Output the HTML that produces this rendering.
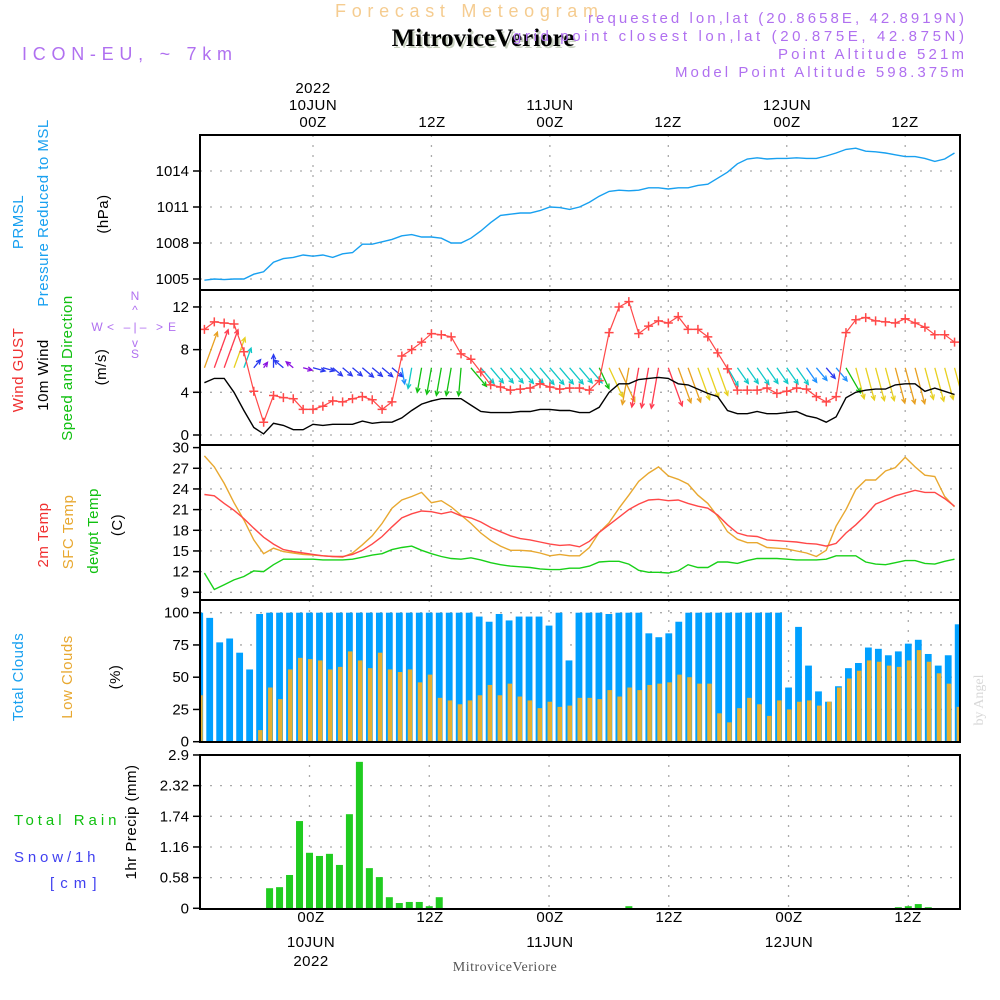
<!DOCTYPE html>
<html><head><meta charset="utf-8">
<style>
html,body{margin:0;padding:0;background:#fff;}
svg{display:block;font-family:"Liberation Sans",sans-serif;}
</style></head>
<body>
<svg id="chart" width="1000" height="1000" viewBox="0 0 1000 1000" xmlns="http://www.w3.org/2000/svg">
<rect width="1000" height="1000" fill="#fff"/>
<!-- headers -->
<text x="335" y="17" font-size="18" fill="#f5cc90" textLength="263" lengthAdjust="spacing">Forecast Meteogram</text>
<text x="485" y="48" font-size="25" font-weight="bold" font-family="Liberation Serif, serif" fill="#c8d0c0" text-anchor="middle">MitroviceVeriore</text>
<text x="483" y="46" font-size="25" font-weight="bold" font-family="Liberation Serif, serif" fill="#000" text-anchor="middle">MitroviceVeriore</text>
<text x="22" y="60" font-size="18" fill="#b070f0" textLength="210" lengthAdjust="spacing">ICON-EU, ~ 7km</text>
<g font-size="15" fill="#b070f0">
<text x="588" y="23" textLength="376" lengthAdjust="spacing">requested lon,lat (20.8658E, 42.8919N)</text>
<text x="513" y="41" textLength="451" lengthAdjust="spacing">grid point closest lon,lat (20.875E, 42.875N)</text>
<text x="778" y="59" textLength="186" lengthAdjust="spacing">Point Altitude 521m</text>
<text x="675" y="77" textLength="289" lengthAdjust="spacing">Model Point Altitude 598.375m</text>
</g>
<!-- top time labels -->
<g font-size="15" fill="#000" text-anchor="middle" letter-spacing="0.5">
<text x="313" y="93">2022</text>
<text x="313" y="110">10JUN</text><text x="313" y="127">00Z</text>
<text x="432" y="127">12Z</text>
<text x="550" y="110">11JUN</text><text x="550" y="127">00Z</text>
<text x="668" y="127">12Z</text>
<text x="787" y="110">12JUN</text><text x="787" y="127">00Z</text>
<text x="905" y="127">12Z</text>
</g>
<!-- left labels -->
<g font-size="15" letter-spacing="0.5">
<text transform="translate(23,222) rotate(-90)" fill="#18a0f0" text-anchor="middle">PRMSL</text>
<text transform="translate(48,213) rotate(-90)" fill="#18a0f0" text-anchor="middle">Pressure Reduced to MSL</text>
<text transform="translate(108,214) rotate(-90)" fill="#000" text-anchor="middle">(hPa)</text>
<text transform="translate(23,370) rotate(-90)" fill="#f03030" text-anchor="middle">Wind GUST</text>
<text transform="translate(48,375) rotate(-90)" fill="#000" text-anchor="middle">10m Wind</text>
<text transform="translate(72,368) rotate(-90)" fill="#10c010" text-anchor="middle">Speed and Direction</text>
<text transform="translate(106,367) rotate(-90)" fill="#000" text-anchor="middle">(m/s)</text>
<text transform="translate(48,535) rotate(-90)" fill="#f03030" text-anchor="middle">2m Temp</text>
<text transform="translate(73,532) rotate(-90)" fill="#e8a830" text-anchor="middle">SFC Temp</text>
<text transform="translate(98,531) rotate(-90)" fill="#10c010" text-anchor="middle">dewpt Temp</text>
<text transform="translate(122,525) rotate(-90)" fill="#000" text-anchor="middle">(C)</text>
<text transform="translate(23,677) rotate(-90)" fill="#18a0f0" text-anchor="middle">Total Clouds</text>
<text transform="translate(72,677) rotate(-90)" fill="#e8a830" text-anchor="middle">Low Clouds</text>
<text transform="translate(120,677) rotate(-90)" fill="#000" text-anchor="middle">(%)</text>
<text transform="translate(136,822) rotate(-90)" fill="#000" text-anchor="middle">1hr Precip (mm)</text>
<text x="14" y="825" fill="#10c010" textLength="103" lengthAdjust="spacing">Total  Rain</text>
<text x="14" y="862" fill="#4040f0" textLength="82" lengthAdjust="spacing">Snow/1h</text>
<text x="50" y="888" fill="#4040f0" textLength="47" lengthAdjust="spacing">[cm]</text>
</g>
<g fill="#b070f0" font-size="12" text-anchor="middle">
<text x="135" y="300">N</text><text x="135" y="358">S</text>
<text x="97" y="331">W</text><text x="172" y="331">E</text>
<text x="135" y="314">^</text><text x="135" y="347">v</text>
<text x="135" y="331" textLength="56" lengthAdjust="spacing">&lt; –|– &gt;</text>
</g>
<text transform="translate(983,700) rotate(-90)" font-size="14" font-family="Liberation Serif, serif" fill="#d8d8d8" text-anchor="middle">by Angel</text>
<!-- bottom axis -->
<g font-size="15" fill="#000" text-anchor="middle" letter-spacing="0.5">
<text x="311" y="922">00Z</text><text x="311" y="947">10JUN</text><text x="311" y="966">2022</text>
<text x="430" y="922">12Z</text>
<text x="550" y="922">00Z</text><text x="550" y="947">11JUN</text>
<text x="669" y="922">12Z</text>
<text x="789" y="922">00Z</text><text x="789" y="947">12JUN</text>
<text x="908" y="922">12Z</text>
</g>
<text x="505" y="971" font-size="14" font-family="Liberation Serif, serif" fill="#555" text-anchor="middle" letter-spacing="0.5">MitroviceVeriore</text>
<g id="plots"></g>
</svg>
<script>
// ---- data (hourly, from 10JUN -11h to +65h) ----
const hourStart = -11;
const pressure = [1004.9,1005.0,1004.95,1005.0,1005.0,1005.4,1005.6,1006.4,1006.7,1006.8,1007.0,1006.9,1007.0,1006.8,1007.1,1007.2,1007.9,1007.9,1008.1,1008.3,1008.6,1008.7,1008.5,1008.5,1008.4,1008.0,1008.0,1008.4,1009.0,1009.7,1010.3,1010.4,1010.5,1010.5,1010.7,1011.0,1010.95,1010.8,1011.0,1011.4,1011.9,1012.3,1012.4,1012.35,1012.4,1012.6,1012.6,1012.5,1012.6,1012.6,1012.8,1012.9,1013.4,1013.9,1014.6,1015.0,1015.1,1015.0,1015.05,1015.05,1015.1,1015.05,1015.05,1015.25,1015.5,1015.8,1015.9,1015.65,1015.6,1015.5,1015.35,1015.2,1015.2,1015.05,1014.8,1015.0,1015.5];
const gust = [9.9,10.6,10.5,10.4,7.8,4.1,1.2,3.7,3.5,3.4,2.4,2.4,2.7,3.2,3.1,3.4,3.6,3.3,2.4,3.1,7.4,8.0,8.7,9.5,9.4,9.2,7.6,7.1,5.9,4.7,4.5,4.2,4.3,4.4,4.8,4.5,4.3,4.4,4.4,4.2,5.1,9.6,12.0,12.5,9.5,10.2,10.7,10.5,11.1,9.9,9.9,9.2,7.7,6.2,4.2,4.2,4.2,4.4,3.9,4.1,4.4,4.3,3.6,3.1,3.6,9.6,10.8,11.0,10.7,10.6,10.5,10.9,10.5,10.1,9.4,9.4,8.7];
const windSpeed = [4.9,5.3,5.3,4.0,2.3,0.7,0.1,1.1,0.9,0.5,0.5,1.0,0.9,1.0,1.0,1.0,1.3,1.1,1.2,1.2,1.6,2.3,2.9,3.2,3.4,3.4,3.4,2.8,2.2,2.1,2.1,2.1,2.2,2.2,2.4,2.4,2.3,2.3,2.1,2.1,2.6,4.0,4.8,4.8,5.2,5.3,5.4,5.3,4.8,4.7,4.3,3.9,3.6,2.3,2.0,2.0,2.2,2.0,2.0,2.1,2.2,1.8,1.6,1.2,1.7,3.5,4.0,4.2,4.3,4.3,4.7,4.8,4.8,4.1,4.4,4.1,3.8];
const windDir = [200,200,200,200,200,220,215,180,130,130,285,285,285,310,310,310,310,310,310,310,350,10,10,10,10,10,5,320,320,320,320,320,320,320,320,320,320,320,320,320,335,335,335,10,10,10,10,340,340,340,340,340,340,330,325,325,325,325,325,325,325,325,320,320,320,330,345,345,345,345,345,345,345,345,345,345,345];
const temp2m = [23.2,23.0,21.9,20.9,19.7,18.3,17.0,16.0,15.2,14.9,14.7,14.5,14.3,14.2,14.2,14.5,15.1,16.0,17.1,18.5,19.8,20.4,20.8,20.7,20.4,20.7,20.1,19.8,19.2,18.4,17.8,17.2,16.8,16.6,16.3,16.0,15.8,15.9,15.6,16.4,17.7,18.8,19.9,21.0,21.8,22.4,22.5,22.3,22.4,21.9,21.5,21.2,20.2,18.8,17.6,17.2,17.1,16.6,16.5,16.4,16.3,16.1,16.0,15.7,16.1,17.6,18.8,20.2,21.8,22.4,23.0,23.4,23.8,23.5,23.5,22.6,21.5];
const tempSfc = [28.8,27.2,24.8,22.0,19.5,16.6,14.6,15.4,14.9,14.7,14.5,14.4,14.3,14.2,14.1,14.7,15.9,17.2,19.0,21.2,22.4,22.9,23.5,22.0,22.3,21.4,20.2,19.0,17.6,16.5,15.7,15.1,15.1,15.0,14.7,14.3,14.5,14.3,14.3,15.5,17.7,19.1,21.2,23.1,25.1,26.3,27.2,25.9,25.4,24.7,23.1,21.9,20.0,17.8,16.7,16.2,16.2,15.5,15.4,15.3,15.0,14.7,14.2,15.1,18.6,21.0,23.9,25.3,25.3,26.6,27.1,28.6,27.2,26.0,25.8,22.9,21.4];
const dewpt = [11.8,9.4,10.1,10.8,11.3,12.1,12.0,13.0,13.8,13.8,13.8,13.8,13.7,13.7,13.7,13.8,14.1,14.4,14.6,15.2,15.5,15.7,15.1,14.6,14.2,13.9,13.8,14.0,13.7,13.3,13.0,12.8,12.7,12.6,12.4,12.3,12.3,12.5,12.5,12.8,13.4,13.5,13.5,13.1,12.2,11.9,11.9,11.8,12.1,13.0,12.6,12.6,13.4,13.4,13.2,13.6,13.9,13.9,13.9,13.8,13.7,13.7,13.7,13.8,14.3,14.3,14.3,13.4,13.1,13.0,13.3,13.6,13.6,13.2,13.1,13.5,13.8];
const totalClouds = [100,96,77,80,69,56,99,100,100,100,100,100,100,100,100,100,100,100,100,100,100,100,100,100,100,100,100,100,97,93,99,94,97,97,97,90,100,63,100,100,100,99,100,100,100,84,81,84,93,100,100,100,100,100,100,100,100,100,100,42,89,59,39,31,43,57,61,73,72,67,70,76,79,68,59,67,91];
const lowClouds = [36,0,0,0,0,0,9,42,33,56,65,64,63,56,58,70,63,57,69,56,54,56,46,52,34,32,29,32,36,44,36,45,35,32,26,31,27,28,34,34,33,40,35,42,40,44,45,46,52,50,45,45,22,15,26,34,29,20,32,25,31,32,28,31,42,49,55,63,62,59,58,63,71,62,53,45,27];
const precip = [0,0,0,0,0,0,0,0.38,0.40,0.63,1.65,1.05,0.99,1.03,0.82,1.78,2.77,0.76,0.59,0.21,0.10,0.12,0.12,0.04,0.21,0,0,0,0,0,0,0,0,0,0,0,0,0,0,0,0,0,0,0.04,0,0,0,0,0,0,0,0,0,0,0,0,0,0,0,0,0,0,0,0,0,0,0,0,0,0,0.02,0.04,0.08,0.02,0,0,0];
const pressTicks = [1005,1008,1011,1014];
const windTicks = [0,4,8,12];
const tempTicks = [9,12,15,18,21,24,27,30];
const cloudTicks = [0,25,50,75,100];
const precipTicks = ['0','0.58','1.16','1.74','2.32','2.9'];
const gridHours = [0,12,24,36,48,60];

// ---- axes ----
const X0 = 200, X1 = 960;
const xTop = h => 313 + h * 9.87;
const xBot = h => 309.5 + h * 9.98;
const yP = v => 279 - (v - 1005) * 12;
const yW = v => 435 - v * 10.67;
const yT = v => 592.3 - (v - 9) * 6.89;
const yC = v => 741.7 - v * 1.29;
const yR = v => 908.3 - v * 52.87;
const panels = [
  {name:'pressure', top:135, bot:290, x:xTop, y:yP, ticks:pressTicks},
  {name:'wind', top:290, bot:445, x:xTop, y:yW, ticks:windTicks},
  {name:'temperature', top:445, bot:600, x:xTop, y:yT, ticks:tempTicks},
  {name:'clouds', top:600, bot:742, x:xBot, y:yC, ticks:cloudTicks},
  {name:'precip', top:755, bot:909, x:xBot, y:yR, ticks:precipTicks}
];
const NS = 'http://www.w3.org/2000/svg';
const root = document.getElementById('plots');
function mk(tag, attrs, parent) {
  const e = document.createElementNS(NS, tag);
  for (const k in attrs) e.setAttribute(k, attrs[k]);
  (parent || root).appendChild(e);
  return e;
}
const hr = i => hourStart + i;

panels.forEach(p => {
  const g = mk('g', {});
  
  
  const clip = mk('clipPath', {id: 'clip-' + p.name}, g);
  mk('rect', {x: X0, y: p.top, width: X1 - X0, height: p.bot - p.top}, clip);
  p.g = g;
  p.ticks.forEach(t => {
    const yy = p.y(parseFloat(t));
    if (yy > p.top + 3 && yy < p.bot - 3) {
      const gl = mk('line', {x1: X0, x2: X1, y1: yy, y2: yy, stroke: '#aaa', 'stroke-width': 1.3, 'stroke-dasharray': '2,8'}, g);
      
      
    }
    const tk = mk('line', {x1: 193, x2: 200, y1: yy, y2: yy, stroke: '#000', 'stroke-width': 1.5}, g);
    
    
    const tl = mk('text', {x: 189, y: yy + 5, 'font-size': 15, 'text-anchor': 'end', fill: '#000'}, g);
    tl.textContent = t;
    
    
  });
  gridHours.forEach(h => {
    const xx = p.x(h);
    const vl = mk('line', {x1: xx, x2: xx, y1: p.top, y2: p.bot, stroke: '#aaa', 'stroke-width': 1.3, 'stroke-dasharray': '2,8'}, g);
    
    
  });
  p.plot = mk('g', {'clip-path': 'url(#clip-' + p.name + ')'}, g);
});

function line(p, arr, color, name, w) {
  const pts = arr.map((v, i) => p.x(hr(i)).toFixed(1) + ',' + p.y(v).toFixed(1)).join(' ');
  const l = mk('polyline', {points: pts, fill: 'none', stroke: color, 'stroke-width': w || 1.4}, p.plot);
  
  
}
line(panels[0], pressure, '#18a0f0', 'pressure-line');
const pw = panels[1];
function windColor(s) {
  if (s < 0.7) return '#8a10e0';
  if (s < 1.5) return '#2838f0';
  if (s < 1.9) return '#1e90ff';
  if (s < 2.6) return '#10c8c8';
  if (s < 3.6) return '#10c010';
  if (s < 4.5) return '#e8d020';
  if (s < 5.0) return '#e8a020';
  return '#ff3c50';
}
windDir.forEach((d, i) => {
  const s = windSpeed[i];
  const len = 6 + 6.5 * s;
  const ang = (d + 180) * Math.PI / 180;
  const x0 = pw.x(hr(i)), y0 = pw.y(6.3);
  const x1 = x0 + Math.sin(ang) * len, y1 = y0 - Math.cos(ang) * len;
  const c = windColor(s);
  const a = mk('g', {stroke: c, 'stroke-width': 1.3, fill: 'none'}, pw.plot);
  
  
  mk('line', {x1: x0, y1: y0, x2: x1, y2: y1}, a);
  const hl = 5, ha = 0.45;
  const back = Math.atan2(y0 - y1, x0 - x1);
  mk('polyline', {points: (x1 + hl * Math.cos(back + ha)) + ',' + (y1 + hl * Math.sin(back + ha)) + ' ' + x1 + ',' + y1 + ' ' + (x1 + hl * Math.cos(back - ha)) + ',' + (y1 + hl * Math.sin(back - ha))}, a);
});
line(pw, windSpeed, '#000', 'wind-speed-line', 1.4);
line(pw, gust, '#ff4848', 'gust-line', 1.2);
gust.forEach((v, i) => {
  const xx = pw.x(hr(i)), yy = pw.y(v);
  const m = mk('path', {d: `M${xx - 4.5},${yy}H${xx + 4.5}M${xx},${yy - 4.5}V${yy + 4.5}`, stroke: '#ff4848', 'stroke-width': 1.5}, pw.plot);
  
  
});
const pt = panels[2];
line(pt, tempSfc, '#e8a830', 'sfc-temp-line');
line(pt, temp2m, '#ff4848', 'temp-2m-line');
line(pt, dewpt, '#18d018', 'dewpoint-line');
const pc = panels[3];
totalClouds.forEach((v, i) => {
  const xx = pc.x(hr(i));
  const b = mk('rect', {x: xx - 3.4, y: pc.y(v), width: 6.8, height: pc.y(0) - pc.y(v), fill: '#00a0ff'}, pc.plot);
  
  
});
lowClouds.forEach((v, i) => {
  if (v <= 0) return;
  const xx = pc.x(hr(i));
  const b = mk('rect', {x: xx - 1.5, y: pc.y(v), width: 4.5, height: pc.y(0) - pc.y(v), fill: '#e8b030'}, pc.plot);
  
  
});
const pr = panels[4];
precip.forEach((v, i) => {
  if (v <= 0) return;
  const xx = pr.x(hr(i));
  const b = mk('rect', {x: xx - 3.5, y: pr.y(v), width: 7, height: pr.y(0) - pr.y(v), fill: '#20cc20'}, pr.plot);
  
  
});
panels.forEach(p => {
  const f = mk('rect', {x: X0, y: p.top, width: X1 - X0, height: p.bot - p.top, fill: 'none', stroke: '#000', 'stroke-width': 2}, p.g);
  
  
});
</script>
</body></html>
